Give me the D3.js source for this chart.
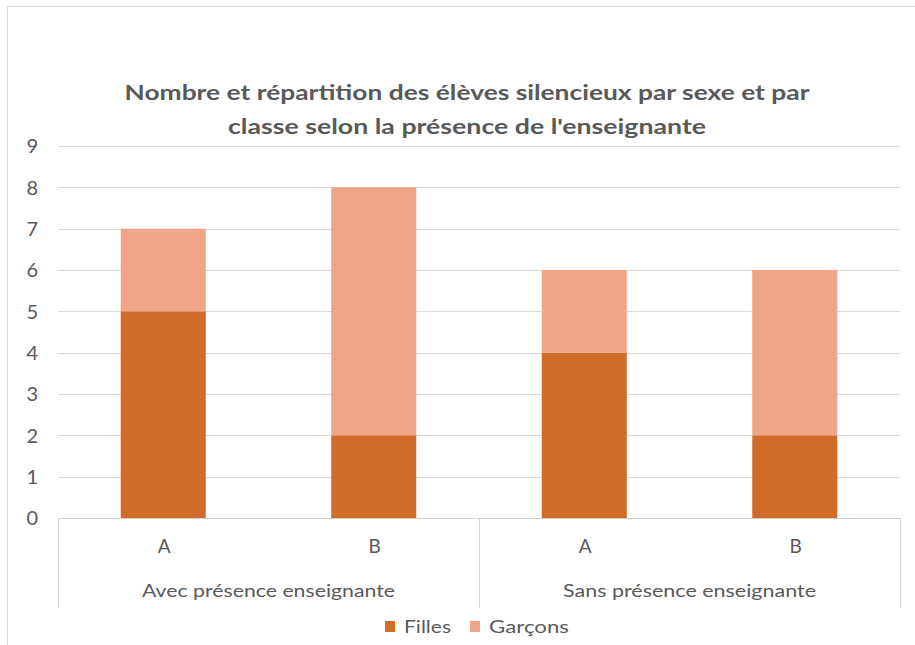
<!DOCTYPE html>
<html>
<head>
<meta charset="utf-8">
<script src="https://cdn.jsdelivr.net/npm/d3@7"></script>
<style>
  body { margin: 0; background: #fff; }
  svg text { fill: #595959; }
</style>
</head>
<body>
<svg id="chart" width="915" height="645"></svg>
<script>
var groups = ['Avec présence enseignante', 'Sans présence enseignante'];
var classes = ['A', 'B'];
var series = ['Filles', 'Garçons'];
var filles = [[5, 2], [4, 2]];
var garcons = [[2, 6], [2, 4]];
var yTicks = [0, 1, 2, 3, 4, 5, 6, 7, 8, 9];
var titleLines = ['Nombre et répartition des élèves silencieux par sexe et par',
                  "classe selon la présence de l'enseignante"];

var colors = { 'Filles': '#d16b2a', 'Garçons': '#f0a686' };
var font = "Lato, 'Open Sans', sans-serif";

var svg = d3.select('#chart'),
    plot = { left: 58, right: 900, bottom: 518, top: 146 };

// chart frame (only top and left edges are visible in the crop)
svg.append('path')
    .attr('d', 'M7.5,645V6.5H915')
    .attr('fill', 'none')
    .attr('stroke', '#d9d9d9');

var y = d3.scaleLinear().domain([0, 9]).range([plot.bottom, plot.top]);
var x0 = d3.scaleBand().domain(groups).range([plot.left, plot.right]);
var x1 = d3.scaleBand().domain(classes).range([0, x0.bandwidth()])
    .paddingInner(0.596).paddingOuter(0.298);

// gridlines
svg.append('g').selectAll('line').data(yTicks.slice(1)).enter().append('line')
    .attr('x1', plot.left).attr('x2', plot.right)
    .attr('y1', function(d) { return Math.round(y(d)) + 0.5; })
    .attr('y2', function(d) { return Math.round(y(d)) + 0.5; })
    .attr('stroke', '#d9d9d9');

// y tick labels
svg.append('g').selectAll('text').data(yTicks).enter().append('text')
    .attr('x', 38).attr('y', function(d) { return y(d); })
    .attr('dy', '0.36em')
    .attr('text-anchor', 'end')
    .style('font-family', font).style('font-size', '20px')
    .text(function(d) { return d; });

// stacked bars
var rows = [];
groups.forEach(function(g, gi) {
    classes.forEach(function(c, ci) {
        rows.push({ group: g, cls: c, Filles: filles[gi][ci], 'Garçons': garcons[gi][ci] });
    });
});
var stacked = d3.stack().keys(series)(rows);

svg.append('g').selectAll('g').data(stacked).enter().append('g')
    .attr('fill', function(d) { return colors[d.key]; })
    .selectAll('rect').data(function(d) { return d; }).enter().append('rect')
    .attr('x', function(d) { return x0(d.data.group) + x1(d.data.cls); })
    .attr('width', x1.bandwidth())
    .attr('y', function(d) { return y(d[1]); })
    .attr('height', function(d) { return y(d[0]) - y(d[1]); });

// category axis box
var axis = svg.append('g').attr('stroke', '#d0d0d0').attr('fill', 'none');
axis.append('line')
    .attr('x1', plot.left).attr('x2', plot.right)
    .attr('y1', plot.bottom + 0.5).attr('y2', plot.bottom + 0.5);
axis.selectAll('.sep').data([plot.left, x0(groups[1]), plot.right]).enter().append('line')
    .attr('class', 'sep')
    .attr('x1', function(d) { return Math.round(d) + 0.5; })
    .attr('x2', function(d) { return Math.round(d) + 0.5; })
    .attr('y1', plot.bottom).attr('y2', 608);

// class labels
svg.append('g').selectAll('text').data(rows).enter().append('text')
    .attr('x', function(d) { return x0(d.group) + x1(d.cls) + x1.bandwidth() / 2 + 1; })
    .attr('y', 546).attr('dy', '0.36em')
    .attr('text-anchor', 'middle')
    .style('font-family', font).style('font-size', '19px')
    .text(function(d) { return d.cls; });

// group labels
svg.append('g').selectAll('text').data(groups).enter().append('text')
    .attr('x', function(d) { return x0(d) + x0.bandwidth() / 2; })
    .attr('y', 591).attr('dy', '0.36em')
    .attr('text-anchor', 'middle')
    .attr('textLength', 253).attr('lengthAdjust', 'spacingAndGlyphs')
    .style('font-family', font).style('font-size', '17px')
    .text(function(d) { return d; });

// title
svg.append('g').selectAll('text').data(titleLines).enter().append('text')
    .attr('x', 467).attr('y', function(d, i) { return 100 + i * 34; })
    .attr('text-anchor', 'middle')
    .attr('textLength', function(d, i) { return i === 0 ? 685 : 478; })
    .attr('lengthAdjust', 'spacingAndGlyphs')
    .style('font-family', font).style('font-size', '21px').style('font-weight', 'bold')
    .text(function(d) { return d; });

// legend
var legendX = [385, 470], legendW = [47, 80];
var legend = svg.append('g').selectAll('g').data(series).enter().append('g')
    .attr('transform', function(d, i) { return 'translate(' + legendX[i] + ',627)'; });
legend.append('rect')
    .attr('x', 0).attr('y', -6).attr('width', 10).attr('height', 11)
    .attr('fill', function(d) { return colors[d]; });
legend.append('text')
    .attr('x', 19).attr('dy', '0.36em')
    .attr('textLength', function(d, i) { return legendW[i]; })
    .attr('lengthAdjust', 'spacingAndGlyphs')
    .style('font-family', font).style('font-size', '17px')
    .text(function(d) { return d; });
</script>
</body>
</html>
